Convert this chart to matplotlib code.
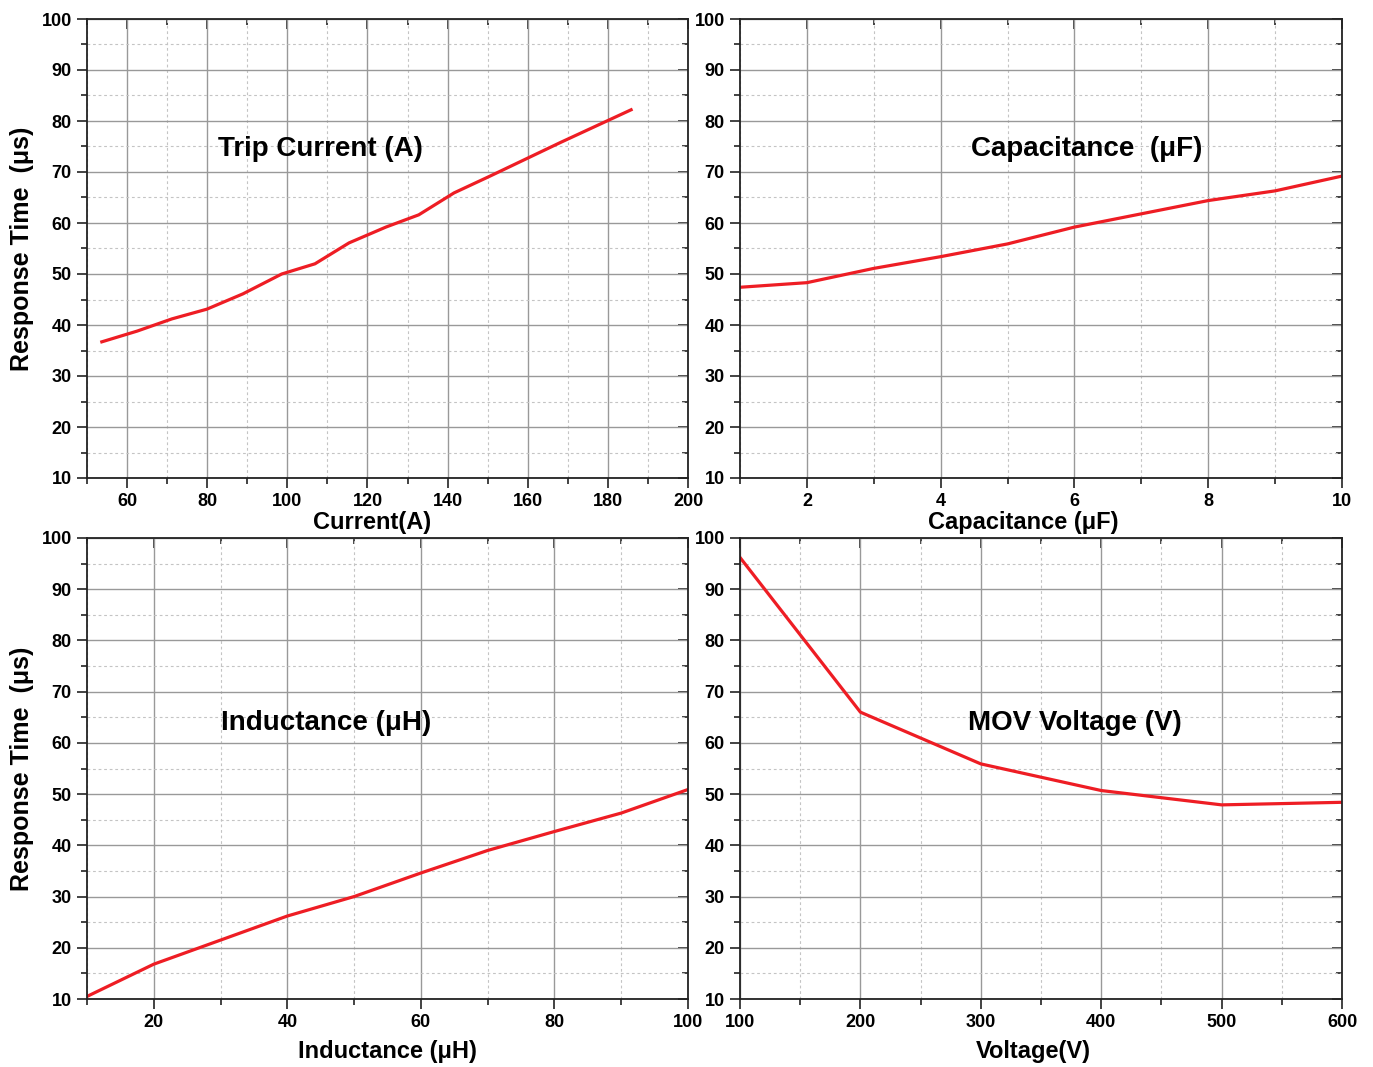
import numpy as np
import matplotlib.pyplot as plt
from matplotlib.ticker import MultipleLocator

plt.rcParams['font.family'] = ['Liberation Sans', 'DejaVu Sans']
plt.rcParams['font.weight'] = 'bold'

# Données
courant = [53.7, 62.5, 71.2, 79.9, 88.9, 98.6, 106.9, 115.4, 124.6, 132.8, 141.6, 150.6, 159.4, 168.2, 177.0, 185.8]
t_courant = [36.7, 38.8, 41.2, 43.1, 46.1, 50.0, 52.0, 56.1, 59.2, 61.6, 65.9, 69.2, 72.5, 75.8, 79.0, 82.2]

capa = [1, 2, 3, 4, 5, 6, 7, 8, 9, 10]
t_capa = [47.4, 48.3, 51.1, 53.4, 55.9, 59.2, 61.8, 64.4, 66.3, 69.2]

induc = [10, 20, 30, 40, 50, 60, 70, 80, 90, 100]
t_induc = [10.5, 16.8, 21.5, 26.2, 30.0, 34.6, 39.0, 42.7, 46.3, 50.9]

tension = [100, 200, 300, 400, 500, 600]
t_tension = [96.2, 66.0, 55.9, 50.7, 47.9, 48.4]

W, H = 1373, 1067
fig = plt.figure(figsize=(W / 100, H / 100), dpi=100)


def px_axes(x0, y0, x1, y1):
    return fig.add_axes([x0 / W, 1 - y1 / H, (x1 - x0) / W, (y1 - y0) / H])


def style(ax, xlim, xmaj, xmin, xlabel, lab_x, lab_y, titre, tx, ty, ylabel=True):
    ax.set_xlim(*xlim)
    ax.set_ylim(10, 100)
    ax.xaxis.set_major_locator(MultipleLocator(xmaj))
    ax.xaxis.set_minor_locator(MultipleLocator(xmin))
    ax.yaxis.set_major_locator(MultipleLocator(10))
    ax.yaxis.set_minor_locator(MultipleLocator(5))
    ax.grid(which='major', color='#999999', lw=1.0, ls='-')
    ax.grid(which='minor', color='#c4c4c4', lw=0.8, ls=(0, (2.5, 2.5)))
    ax.set_axisbelow(True)
    for s in ax.spines.values():
        s.set_color('#222222')
        s.set_linewidth(1.3)
    ax.tick_params(which='both', direction='out', top=False, right=False,
                   color='#222222', width=1.2)
    ax.tick_params(which='major', length=7, labelsize=13, pad=4)
    ax.tick_params(which='minor', length=4)
    # ticks intérieurs en haut et à droite
    ax2 = ax.secondary_xaxis('top')
    ax2.xaxis.set_major_locator(MultipleLocator(xmaj))
    ax2.xaxis.set_minor_locator(MultipleLocator(xmin))
    ax2.tick_params(which='both', direction='in', labeltop=False, color='#222222', width=1.2)
    ax2.tick_params(which='major', length=7)
    ax2.tick_params(which='minor', length=4)
    ax3 = ax.secondary_yaxis('right')
    ax3.yaxis.set_major_locator(MultipleLocator(10))
    ax3.yaxis.set_minor_locator(MultipleLocator(5))
    ax3.tick_params(which='both', direction='in', labelright=False, color='#222222', width=1.2)
    ax3.tick_params(which='major', length=7)
    ax3.tick_params(which='minor', length=4)
    for a in (ax2, ax3):
        for s in a.spines.values():
            s.set_visible(False)
    for lab in ax.get_xticklabels() + ax.get_yticklabels():
        lab.set_fontweight('bold')
    ax.set_xlabel(xlabel, fontsize=17, fontweight='bold', va='center')
    ax.xaxis.set_label_coords(lab_x, lab_y)
    if ylabel:
        ax.set_ylabel('Response Time  (\u03bcs)', fontsize=18, fontweight='bold', va='center')
        ax.yaxis.set_label_coords(-0.108, 0.5)
    ax.text(tx, ty, titre, transform=ax.transAxes, ha='center', va='center',
            fontsize=20, fontweight='bold')


ax1 = px_axes(87, 19, 688, 478)
ax1.plot(courant, t_courant, color='#ee1d24', lw=2.3)
style(ax1, (50, 200), 20, 10, 'Current(A)', 0.474, -0.098, 'Trip Current (A)', 0.388, 0.717)

ax2 = px_axes(740, 19, 1342, 478)
ax2.plot(capa, t_capa, color='#ee1d24', lw=2.3)
style(ax2, (1, 10), 2, 1, 'Capacitance (\u03bcF)', 0.47, -0.098, 'Capacitance  (\u03bcF)', 0.576, 0.717, ylabel=False)

ax3 = px_axes(87, 538, 688, 999)
ax3.plot(induc, t_induc, color='#ee1d24', lw=2.3)
style(ax3, (10, 100), 20, 10, 'Inductance (\u03bcH)', 0.5, -0.113, 'Inductance (\u03bcH)', 0.398, 0.599)

ax4 = px_axes(740, 538, 1342, 999)
ax4.plot(tension, t_tension, color='#ee1d24', lw=2.3)
style(ax4, (100, 600), 100, 50, 'Voltage(V)', 0.487, -0.113, 'MOV Voltage (V)', 0.556, 0.599, ylabel=False)

plt.savefig('out.png', dpi=100)
